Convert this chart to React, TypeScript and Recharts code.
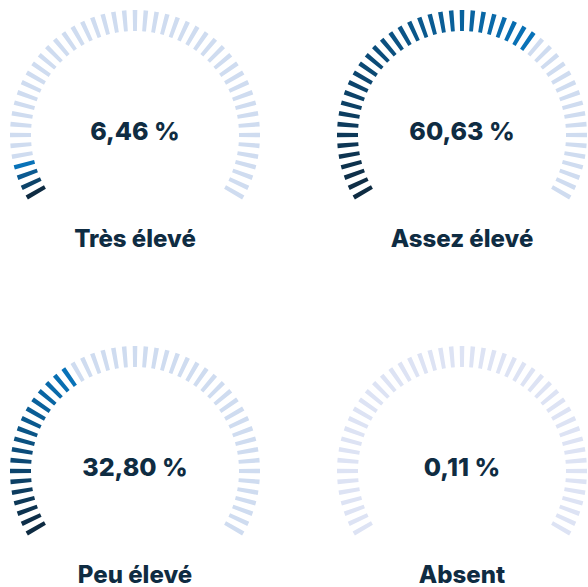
import React from "react";
import { PieChart, Pie, Cell } from "recharts";

const categories = ["Très élevé", "Assez élevé", "Peu élevé", "Absent"];
const shares = [6.46, 60.63, 32.8, 0.11];
// lit ticks per gauge, counted on the picture
const litTicks = [4, 32, 18, 0];

const TICK_COUNT = 49;
const dialTicks = Array.from({ length: TICK_COUNT }, (_, i) => ({ id: i, value: 1 }));

const W = 588;
const H = 587;
const centers = [
  { x: 135, y: 135 },
  { x: 462, y: 135 },
  { x: 135, y: 471 },
  { x: 462, y: 471 },
];

const STEP = 5; // degrees between tick centres
const TICK_W = 2.1; // angular width of one tick
const START = 210 + TICK_W / 2;
const END = -30 - TICK_W / 2;

const DARK = [14, 43, 66];
const BLUE = [8, 114, 184];
const EMPTY = "#cfdcf0";
const EMPTY_ABSENT = "#dde3f4";
const TEXT = "#0f2c42";

function mix(t: number) {
  const c = DARK.map((d, k) => Math.round(d + (BLUE[k] - d) * t));
  return `rgb(${c[0]},${c[1]},${c[2]})`;
}

function tickColor(i: number, lit: number, absent: boolean) {
  if (i < lit) return mix(lit > 1 ? i / (lit - 1) : 1);
  return absent ? EMPTY_ABSENT : EMPTY;
}

const fmt = (v: number) => v.toFixed(2).replace(".", ",") + "\u00a0%";

export default function App() {
  return (
    <div style={{ position: "absolute", left: 0, top: 0, width: W, height: H, background: "#fff" }}>
      <PieChart width={W} height={H} margin={{ top: 0, right: 0, bottom: 0, left: 0 }}>
        {categories.map((cat, g) => (
          <Pie
            key={cat}
            data={dialTicks}
            dataKey="value"
            nameKey="id"
            cx={centers[g].x}
            cy={centers[g].y}
            innerRadius={104}
            outerRadius={125}
            startAngle={START}
            endAngle={END}
            paddingAngle={STEP - TICK_W}
            stroke="none"
            isAnimationActive={false}
          >
            {dialTicks.map((t) => (
              <Cell key={t.id} fill={tickColor(t.id, litTicks[g], g === 3)} />
            ))}
          </Pie>
        ))}
      </PieChart>
      <svg
        width={W}
        height={H}
        style={{ position: "absolute", left: 0, top: 0, pointerEvents: "none" }}
      >
        {categories.map((cat, g) => (
          <g key={cat} fontFamily="Inter, sans-serif" fontWeight={800} fill={TEXT} textAnchor="middle">
            <text x={centers[g].x} y={centers[g].y + 5} fontSize={25}>
              {fmt(shares[g])}
            </text>
            <text x={centers[g].x} y={centers[g].y + 112} fontSize={24}>
              {cat}
            </text>
          </g>
        ))}
      </svg>
    </div>
  );
}
